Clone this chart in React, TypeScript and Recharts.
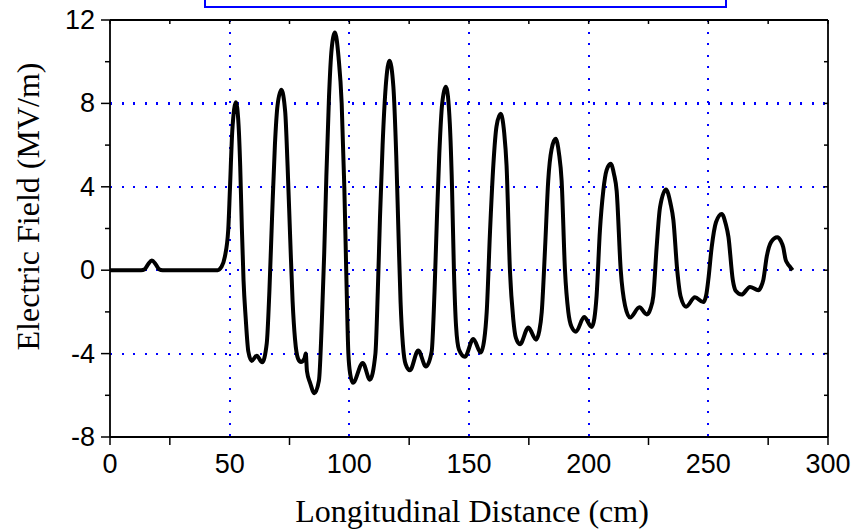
import React from 'react';
import { LineChart, Line, XAxis, YAxis, CartesianGrid } from 'recharts';

// Longitudinal distance (cm)
const distance = [
  0, 13, 14.5, 16, 17.5, 19, 20.5, 22, 45, 46.5,
  48.0, 49.4, 50.1, 51.1, 52.6, 53.7, 54.4, 55.1, 55.8, 56.7,
  57.8, 59.2, 61.3, 63.6, 65.5, 66.6, 67.7, 68.9, 70.0, 71.6,
  73.2, 74.2, 75.3, 76.3, 77.3, 78.6, 79.8, 81.2, 81.8, 82.3,
  83.6, 85.4, 87.3, 88.5, 89.5, 90.4, 91.5, 92.6, 94.0, 95.5,
  96.8, 97.9, 98.7, 99.6, 100.4, 101.5, 105.6, 108.6, 110.9, 111.9,
  112.8, 113.9, 115.2, 116.8, 118.4, 119.6, 120.6, 121.4, 122.4, 123.5,
  125.3, 128.8, 132.0, 134.4, 135.6, 136.6, 137.6, 138.8, 140.4, 142.0,
  142.9, 143.7, 144.6, 145.8, 148.3, 151.8, 154.9, 156.4, 157.4, 158.8,
  160.2, 161.5, 163.2, 164.7, 165.7, 167.1, 168.5, 169.6, 171.3, 174.8,
  178.0, 179.4, 180.4, 181.8, 183.1, 184.5, 186.2, 187.6, 188.7, 190.1,
  191.5, 192.8, 194.7, 198.1, 201.3, 202.4, 203.3, 204.7, 206.1, 207.5,
  209.2, 210.6, 211.7, 213.4, 215.2, 217.3, 221.2, 224.3, 225.8, 227.0,
  228.4, 229.8, 232.3, 234.2, 235.4, 237.0, 238.4, 240.7, 244.4, 247.9,
  249.1, 250.0, 251.4, 253.2, 255.6, 257.3, 258.4, 260.2, 261.5, 263.9,
  267.4, 270.9, 272.0, 273.0, 274.4, 276.2, 278.8, 280.3, 281.3, 282.3,
  283.2, 284.1, 285.2,
];

// Electric field (MV/m)
const field = [
  0, 0, 0.05, 0.3, 0.47, 0.3, 0.05, 0, 0, 0.15,
  0.65, 1.93, 3.85, 6.7, 8.05, 7.0, 5.0, 2.0, -0.5, -2.3,
  -3.9, -4.35, -4.1, -4.42, -3.5, -1.0, 2.5, 6.0, 7.9, 8.65,
  7.6, 5.0, 1.5, -1.5, -3.3, -4.25, -4.4, -4.25, -4.0, -4.85,
  -5.4, -5.9, -5.3, -2.5, 0.8, 4.5, 8.3, 10.6, 11.4, 10.2,
  8.0, 4.0, 0, -4.0, -5.0, -5.4, -4.45, -5.25, -4.0, -1.0,
  2.5, 6.0, 8.8, 10.05, 8.8, 5.5, 1.5, -1.5, -3.6, -4.5,
  -4.8, -3.85, -4.62, -3.9, -1.0, 2.5, 5.6, 8.0, 8.8, 7.0,
  4.0, 0, -2.7, -3.8, -4.15, -3.3, -3.95, -3.3, -2.0, 1.9,
  5.1, 6.9, 7.5, 6.6, 5.0, 0, -2.35, -3.25, -3.55, -2.75,
  -3.33, -2.9, -2.0, 1.1, 4.3, 5.8, 6.3, 5.6, 4.3, 0,
  -2.0, -2.7, -2.95, -2.25, -2.72, -2.3, -1.25, 1.9, 3.8, 4.8,
  5.1, 4.6, 3.8, 0, -1.7, -2.27, -1.78, -2.12, -1.85, -1.25,
  1.1, 3.0, 3.87, 3.2, 2.4, 0, -1.25, -1.75, -1.3, -1.53,
  -1.2, -0.45, 1.1, 2.3, 2.7, 2.2, 1.6, -0.45, -1.0, -1.17,
  -0.8, -0.96, -0.8, -0.45, 0.65, 1.35, 1.58, 1.4, 1.1, 0.5,
  0.3, 0.17, 0.0,
];

const xTicks = [0, 25, 50, 75, 100, 125, 150, 175, 200, 225, 250, 275, 300];
const xLabels = [0, 50, 100, 150, 200, 250, 300];
const yTicks = [-8, -6, -4, -2, 0, 2, 4, 6, 8, 10, 12];
const yLabels = [-8, -4, 0, 4, 8, 12];
const gridX = [50, 100, 150, 200, 250];
const gridY = [-4, 0, 4, 8];

const xTitle = 'Longitudinal Distance (cm)';
const yTitle = 'Electric Field (MV/m)';

const data = distance.map((d, i) => ({ d, e: field[i] }));

const TICK_FONT = { fontFamily: '"Liberation Sans", Arial, sans-serif', fontSize: 27, fill: '#000' };
const TITLE_FONT = { fontFamily: '"Liberation Serif", "Times New Roman", serif', fontSize: 32, fill: '#000' };

const BottomTick = (props: any) => {
  const { x, y, payload } = props;
  const v = payload.value;
  const isLabel = xLabels.includes(v);
  const showLine = !isLabel || v === 0 || v === 300;
  return (
    <g>
      {showLine && <line x1={x} y1={y} x2={x} y2={y + 8} stroke="#000" strokeWidth={1.5} />}
      {isLabel && (
        <text x={x} y={y + 36} textAnchor="middle" {...TICK_FONT}>
          {v}
        </text>
      )}
    </g>
  );
};

const TopTick = (props: any) => {
  const { x, y } = props;
  return <line x1={x} y1={y} x2={x} y2={y + 4} stroke="#000" strokeWidth={1.5} />;
};

const LeftTick = (props: any) => {
  const { x, y, payload } = props;
  const v = payload.value;
  const isLabel = yLabels.includes(v);
  const len = isLabel ? 9 : 5;
  return (
    <g>
      <line x1={x - len} y1={y} x2={x} y2={y} stroke="#000" strokeWidth={1.5} />
      {isLabel && (
        <text x={x - 15} y={y + 9} textAnchor="end" {...TICK_FONT}>
          {v}
        </text>
      )}
    </g>
  );
};

const RightTick = (props: any) => {
  const { x, y } = props;
  return <line x1={x - 4} y1={y} x2={x} y2={y} stroke="#000" strokeWidth={1.5} />;
};

export default function App() {
  return (
    <div style={{ position: 'absolute', left: 0, top: 0, width: 854, height: 530, overflow: 'hidden', background: '#fff' }}>
      <div
        style={{
          position: 'absolute',
          left: 204,
          top: -20,
          width: 519,
          height: 24,
          border: '2px solid #0000ff',
        }}
      />
      <LineChart width={854} height={530} data={data} margin={{ top: 20, right: 26, bottom: 0, left: 0 }}>
        <CartesianGrid
          stroke="#0000ff"
          strokeWidth={2.2}
          strokeDasharray="2.2 9.3"
          shapeRendering="crispEdges"
          verticalValues={gridX}
          horizontalValues={gridY}
        />
        <XAxis
          dataKey="d"
          type="number"
          domain={[0, 300]}
          ticks={xTicks}
          interval={0}
          height={93}
          tickSize={0}
          tickMargin={0}
          tickLine={false}
          tick={<BottomTick />}
          axisLine={{ stroke: '#000', strokeWidth: 1.8 }}
          allowDataOverflow
          label={{ value: xTitle, position: 'insideBottom', offset: 8, dx: 3, style: TITLE_FONT }}
        />
        <XAxis
          xAxisId="top"
          orientation="top"
          dataKey="d"
          type="number"
          domain={[0, 300]}
          ticks={xTicks}
          interval={0}
          mirror
          tickSize={0}
          tickMargin={0}
          tickLine={false}
          tick={<TopTick />}
          axisLine={{ stroke: '#000', strokeWidth: 1.8 }}
          allowDataOverflow
        />
        <YAxis
          type="number"
          domain={[-8, 12]}
          ticks={yTicks}
          interval={0}
          width={110}
          tickSize={0}
          tickMargin={0}
          tickLine={false}
          tick={<LeftTick />}
          axisLine={{ stroke: '#000', strokeWidth: 1.8 }}
          allowDataOverflow
          label={{ value: yTitle, angle: -90, position: 'center', dx: -27, dy: -22, style: TITLE_FONT }}
        />
        <YAxis
          yAxisId="right"
          orientation="right"
          type="number"
          domain={[-8, 12]}
          ticks={yTicks}
          interval={0}
          mirror
          tickSize={0}
          tickMargin={0}
          tickLine={false}
          tick={<RightTick />}
          axisLine={{ stroke: '#000', strokeWidth: 1.8 }}
          allowDataOverflow
        />
        <Line
          dataKey="e"
          type="monotone"
          stroke="#000"
          strokeWidth={4}
          dot={false}
          activeDot={false}
          isAnimationActive={false}
          strokeLinejoin="round"
        />
      </LineChart>
    </div>
  );
}
